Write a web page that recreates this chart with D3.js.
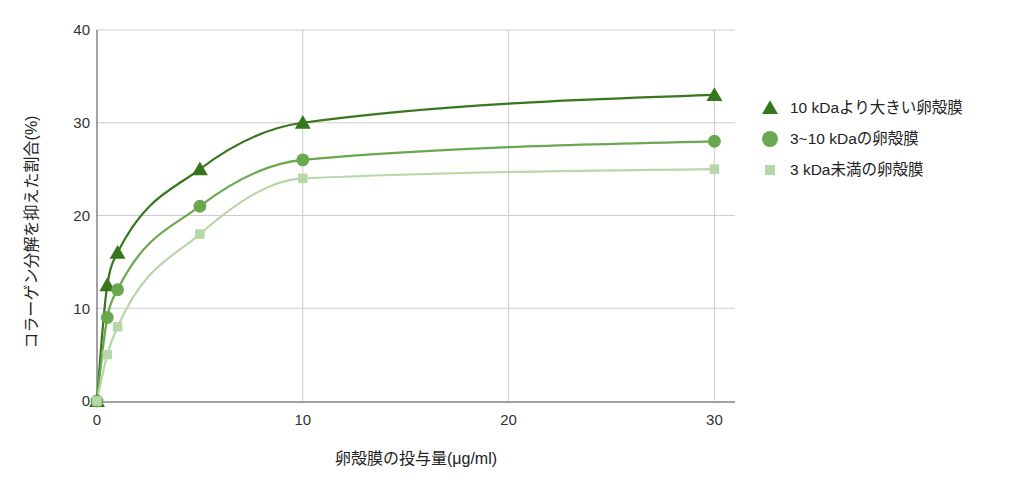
<!DOCTYPE html>
<html><head><meta charset="utf-8">
<script src="https://cdn.jsdelivr.net/npm/d3@7"></script>
<style>
body{margin:0;background:#fff;}
text{font-family:"Liberation Sans","Noto Sans CJK JP",Arial,sans-serif;}
</style></head>
<body><svg id="c" width="1024" height="489"></svg>
<script>
const doses = [0, 0.5, 1, 5, 10, 30];
const seriesNames = ["10 kDaより大きい卵殻膜", "3~10 kDaの卵殻膜", "3 kDa未満の卵殻膜"];
const over10 = [0, 12.5, 16, 25, 30, 33];
const from3to10 = [0, 9, 12, 21, 26, 28];
const under3 = [0, 5, 8, 18, 24, 25];
const xTicks = [0, 10, 20, 30];
const yTicks = [0, 10, 20, 30, 40];
const xTitle = "卵殻膜の投与量(μg/ml)";
const yTitle = "コラーゲン分解を抑えた割合(%)";

const colors = ["#38761d", "#6aa84f", "#b6d7a8"];
const shapes = [d3.symbolTriangle, d3.symbolCircle, d3.symbolSquare];
const symSize = [110, 130, 90];

const svg = d3.select("#c");
const L = 97, R = 735, T = 30, B = 401;
const x = d3.scaleLinear().domain([0, 31]).range([L, R]);
const y = d3.scaleLinear().domain([0, 40]).range([B, T]);

// grid
svg.append("g").selectAll("line").data(yTicks.filter(d => d > 0)).join("line")
  .attr("x1", L).attr("x2", R).attr("y1", d => y(d)).attr("y2", d => y(d))
  .attr("stroke", "#cccccc").attr("stroke-width", 1);
svg.append("g").selectAll("line").data(xTicks.filter(d => d > 0)).join("line")
  .attr("x1", d => x(d)).attr("x2", d => x(d)).attr("y1", T).attr("y2", B)
  .attr("stroke", "#cccccc").attr("stroke-width", 1);

// axes lines
svg.append("line").attr("x1", L).attr("x2", L).attr("y1", T).attr("y2", B + 1).attr("stroke", "#444").attr("stroke-width", 1);
svg.append("line").attr("x1", L).attr("x2", R).attr("y1", B + 1).attr("y2", B + 1).attr("stroke", "#444").attr("stroke-width", 1);

// tick labels
svg.append("g").selectAll("text").data(yTicks).join("text")
  .attr("x", L - 7).attr("y", d => y(d)).attr("dy", "0.35em")
  .attr("text-anchor", "end").attr("font-size", 15).attr("fill", "#333").text(d => d);
svg.append("g").selectAll("text").data(xTicks).join("text")
  .attr("x", d => x(d)).attr("y", B + 24)
  .attr("text-anchor", "middle").attr("font-size", 15).attr("fill", "#333").text(d => d);

// titles
svg.append("text").attr("x", (L + R) / 2).attr("y", 464).attr("text-anchor", "middle")
  .attr("font-size", 16).attr("fill", "#222").text(xTitle);
svg.append("text").attr("transform", `translate(37,232) rotate(-90)`)
  .attr("text-anchor", "middle").attr("font-size", 16).attr("fill", "#222").text(yTitle);

const allSeries = [over10, from3to10, under3];
const line = d3.line().x((d, i) => x(doses[i])).y(d => y(d)).curve(d3.curveMonotoneX);

allSeries.forEach((vals, si) => {
  svg.append("path").datum(vals).attr("d", line).attr("fill", "none")
    .attr("stroke", colors[si]).attr("stroke-width", 2.2);
});
allSeries.forEach((vals, si) => {
  svg.append("g").selectAll("path").data(vals).join("path")
    .attr("transform", (d, i) => `translate(${x(doses[i])},${y(d) + (si === 0 ? 1.5 : 0)})`)
    .attr("d", d3.symbol().type(shapes[si]).size(symSize[si]))
    .attr("fill", colors[si]);
});

// legend
const lg = svg.append("g");
seriesNames.forEach((n, i) => {
  const yy = 108 + i * 31;
  lg.append("path").attr("transform", `translate(770,${yy + (i === 0 ? 1.5 : 0)})`)
    .attr("d", d3.symbol().type(shapes[i]).size(i === 1 ? 200 : (i === 0 ? 110 : 100)))
    .attr("fill", colors[i]);
  lg.append("text").attr("x", 790).attr("y", yy).attr("dy", "0.35em")
    .attr("font-size", 15.5).attr("fill", "#222").text(n);
});
</script></body></html>
